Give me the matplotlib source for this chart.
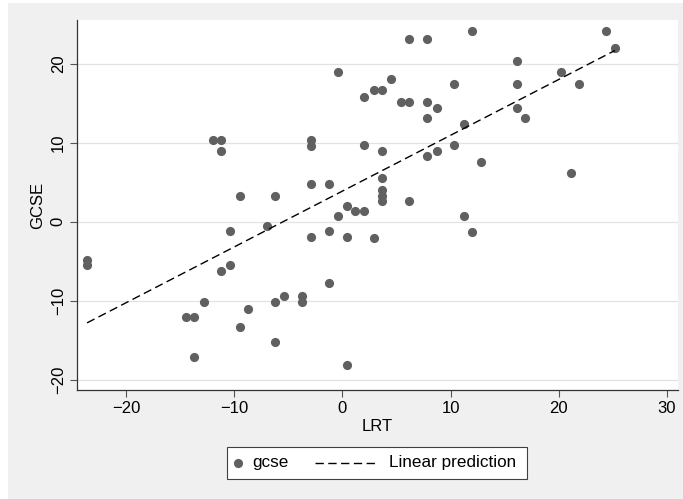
import numpy as np
import matplotlib
matplotlib.use('Agg')
import matplotlib.pyplot as plt
from matplotlib.lines import Line2D
from matplotlib.patches import Rectangle
from matplotlib.offsetbox import DrawingArea, TextArea, HPacker, AnchoredOffsetbox

# ----- data -----
lrt = [-23.6, -23.6, -14.5, -13.7, -13.7, -12.8, -12.0, -11.2, -11.2, -11.2,
       -10.4, -10.4, -9.5, -9.5, -8.7, -7.0, -6.2, -6.2, -6.2, -5.4,
       -3.7, -3.7, -2.9, -2.9, -2.9, -2.9, -1.26, -1.26, -1.26, -0.43,
       -0.43, 0.4, 0.4, 0.4, 1.2, 2.04, 2.04, 2.04, 2.9, 2.9,
       3.7, 3.7, 3.7, 3.7, 3.7, 3.7, 4.5, 5.37, 6.2, 6.2,
       6.2, 7.84, 7.84, 7.84, 7.84, 8.7, 8.7, 10.3, 10.3, 11.2,
       11.2, 12.0, 12.0, 12.8, 16.1, 16.1, 16.1, 16.9, 20.25, 21.1,
       21.9, 24.4, 25.2]
gcse = [-4.8, -5.5, -12.1, -12.1, -17.1, -10.2, 10.4, 10.4, 9.0, -6.2,
        -1.2, -5.5, 3.3, -13.3, -11.1, -0.55, 3.3, -10.2, -15.2, -9.35,
        -9.35, -10.2, 10.4, 9.6, 4.8, -1.9, 4.8, -1.2, -7.7, 19.0,
        0.76, 2.0, -1.9, -18.2, 1.4, 15.8, 9.7, 1.4, 16.65, -2.0,
        16.65, 9.0, 5.5, 4.0, 3.3, 2.6, 18.1, 15.1, 23.1, 15.1,
        2.6, 23.1, 15.1, 13.1, 8.3, 14.4, 9.0, 17.4, 9.7, 12.4,
        0.76, 24.1, -1.26, 7.5, 20.4, 17.4, 14.4, 13.1, 19.0, 6.2,
        17.4, 24.1, 22.0]

x_ticks = [-20, -10, 0, 10, 20, 30]
y_ticks = [-20, -10, 0, 10, 20]

# ----- style -----
BG = '#f0f0f0'
DOT = '#606060'
AXCOL = '#333333'
FONT = 'Liberation Sans'
plt.rcParams['font.family'] = [FONT, 'DejaVu Sans']
plt.rcParams['font.size'] = 12

fig = plt.figure(figsize=(6.83, 4.99), dpi=100)
fig.patch.set_facecolor('white')
fig.patches.append(Rectangle((8 / 683, 0), 1, 1 - 3 / 499, transform=fig.transFigure,
                             facecolor=BG, edgecolor='none', zorder=-10))

ax = fig.add_axes([76.7 / 683, (499 - 390.3) / 499, (678 - 76.7) / 683, (390.3 - 20.3) / 499])
ax.set_facecolor('white')

x = np.array(lrt)
y = np.array(gcse)
slope, intercept = np.polyfit(x, y, 1)
xs = np.array([x.min(), x.max()])

ax.plot(x, y, 'o', color=DOT, markersize=6.6, markeredgewidth=0, zorder=3)
ax.plot(xs, intercept + slope * xs, color='black', linewidth=1.0,
        dashes=(6, 3.2), zorder=4)

ax.set_xlim(-24.56, 31.02)
ax.set_ylim(-21.34, 25.5)
ax.set_xticks(x_ticks)
ax.set_yticks(y_ticks)
ax.grid(axis='y', color='#e2e2e2', linewidth=0.9, zorder=0)
ax.set_axisbelow(True)

for side in ['top', 'right']:
    ax.spines[side].set_visible(False)
for side in ['left', 'bottom']:
    ax.spines[side].set_color(AXCOL)
    ax.spines[side].set_linewidth(0.9)

ax.tick_params(axis='both', direction='out', length=4.8, width=0.8, color='#555555',
               labelsize=12, labelcolor='black')
ax.tick_params(axis='y', pad=3, labelrotation=90)
ax.tick_params(axis='x', pad=3)
for lab in ax.get_yticklabels():
    lab.set_va('center')

ax.set_xlabel('LRT', fontsize=12, labelpad=2)
ax.set_ylabel('GCSE', fontsize=12, labelpad=4)

# ----- legend box -----
px = 0.72  # points per pixel
h = 32 * px
da1 = DrawingArea(25.3 * px, h, 0, 0)
da1.add_artist(Line2D([11.3 * px], [h / 2], marker='o', color=DOT, markersize=6.6,
                      markeredgewidth=0))
ta1 = TextArea('gcse', textprops=dict(fontsize=12.3, family=[FONT, 'DejaVu Sans']))
da2 = DrawingArea(100 * px, h, 0, 0)
da2.add_artist(Line2D([26 * px, 89 * px], [h / 2, h / 2], color='black', linewidth=1.0,
                      dashes=(6, 3.2)))
ta2 = TextArea('Linear prediction', textprops=dict(fontsize=12.3, family=[FONT, 'DejaVu Sans']))
da3 = DrawingArea(11 * px, h, 0, 0)
pack = HPacker(children=[da1, ta1, da2, ta2, da3], sep=0, pad=0, align='center')
leg = AnchoredOffsetbox(loc='center', child=pack, pad=0, borderpad=0, frameon=True,
                        bbox_to_anchor=(377 / 683, (499 - 462.7) / 499),
                        bbox_transform=fig.transFigure)
leg.patch.set_boxstyle('square', pad=0)
leg.patch.set_edgecolor('#404040')
leg.patch.set_linewidth(0.8)
leg.patch.set_facecolor('white')
fig.add_artist(leg)

fig.savefig('out.png', dpi=100, facecolor=fig.get_facecolor())
